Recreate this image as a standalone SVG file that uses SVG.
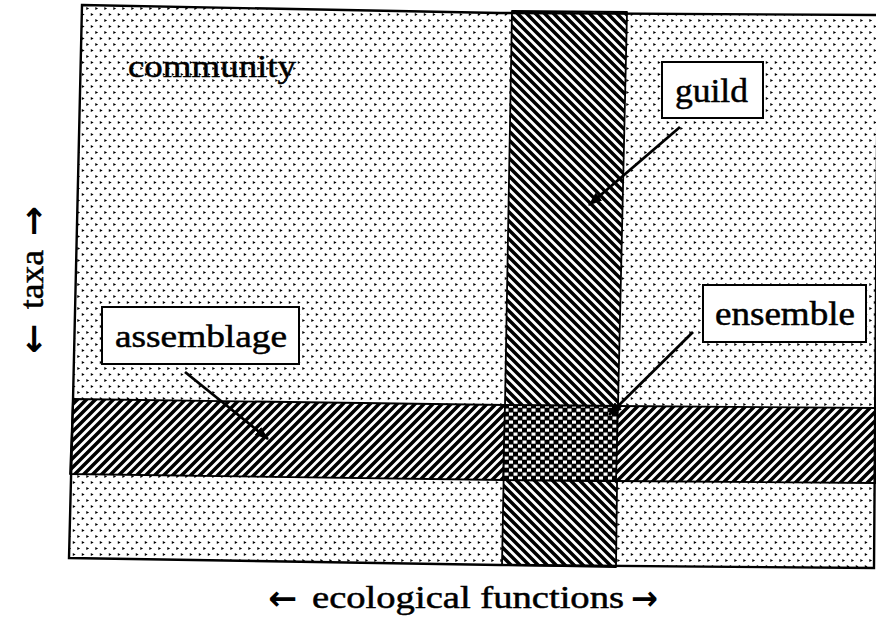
<svg xmlns="http://www.w3.org/2000/svg" width="876" height="632" viewBox="0 0 876 632">
<style>
.lbl{font-family:"Liberation Serif","Times New Roman",serif;fill:#000;stroke:#000;stroke-width:0.5}
.arr{font-family:"DejaVu Sans","Liberation Sans",sans-serif;font-weight:bold;fill:#000}
.box{fill:#fff;stroke:#000;stroke-width:2}
.edge{stroke:#000;stroke-width:1.8;stroke-linejoin:round}
.conn{stroke:#000;stroke-width:2.8;fill:none}
</style>
<defs>
<pattern id="dots" width="9" height="12" patternUnits="userSpaceOnUse">
<rect width="9" height="12" fill="#fff"/>
<path d="M0.8,1 l2.8,1.5 l-2.8,1.5z M5.3,7 l2.8,1.5 l-2.8,1.5z" fill="#000"/>
</pattern>
<pattern id="bs" width="9" height="9" patternUnits="userSpaceOnUse">
<rect width="9" height="9" fill="#fff"/>
<path d="M-2,-2 L11,11 M-2,7 L2,11 M7,-2 L11,2" stroke="#000" stroke-width="3.5"/>
</pattern>
<pattern id="fs" width="9" height="9" patternUnits="userSpaceOnUse">
<rect width="9" height="9" fill="#fff"/>
<path d="M-2,11 L11,-2 M-2,2 L2,-2 M7,11 L11,7" stroke="#000" stroke-width="3.5"/>
</pattern>
<pattern id="check" width="9" height="8" patternUnits="userSpaceOnUse">
<rect width="9" height="8" fill="#000"/>
<rect x="0.5" y="0.5" width="4" height="3.2" fill="#fff"/>
<rect x="5" y="4.5" width="4" height="3.2" fill="#fff"/>
</pattern>
<marker id="ah" viewBox="0 0 14 10" refX="13" refY="5" markerWidth="14" markerHeight="10" markerUnits="userSpaceOnUse" orient="auto">
<path d="M0,0 L14,5 L0,10 z" fill="#000"/>
</marker>
</defs>

<g id="community">
<polygon points="82,5 500,13 878,15 874,568 500,565 69,558 73,400" fill="url(#dots)"/>
</g>

<g id="guild">
<polygon class="edge" points="512,11 627,12 618,406 616,567 502,565 505,405" fill="url(#bs)"/>
</g>

<g id="assemblage">
<polygon class="edge" points="73,399 505,405 618,406 876,408 876,483 616,481 503,480 70,474" fill="url(#fs)"/>
</g>

<g id="ensemble">
<polygon class="edge" points="505,405 618,406 616,481 503,480" fill="url(#check)"/>
</g>

<g id="frame">
<polygon points="82,5 500,13 878,15 874,568 500,565 69,558 73,400" fill="none" stroke="#000" stroke-width="2.4"/>
</g>

<g id="labels">
<text class="lbl" x="128" y="77" font-size="32" textLength="168" lengthAdjust="spacingAndGlyphs">community</text>
<g id="guild-label">
<rect class="box" x="662" y="62" width="101" height="56"/>
<text class="lbl" x="675" y="102" font-size="34" textLength="73" lengthAdjust="spacingAndGlyphs">guild</text>
</g>
<g id="ensemble-label">
<rect class="box" x="703" y="285" width="163" height="57"/>
<text class="lbl" x="715" y="325" font-size="33" textLength="140" lengthAdjust="spacingAndGlyphs">ensemble</text>
</g>
<g id="assemblage-label">
<rect class="box" x="102" y="307" width="197" height="57"/>
<text class="lbl" x="115" y="347" font-size="32" textLength="172" lengthAdjust="spacingAndGlyphs">assemblage</text>
</g>
</g>

<g id="connectors">
<line class="conn" x1="680" y1="127" x2="589" y2="205" marker-end="url(#ah)"/>
<line class="conn" x1="693" y1="332" x2="609" y2="415" marker-end="url(#ah)"/>
<line class="conn" x1="185" y1="372" x2="268" y2="439" marker-end="url(#ah)"/>
</g>

<g id="axes">
<text class="arr" x="268" y="610" font-size="34" textLength="29" lengthAdjust="spacingAndGlyphs">←</text>
<text class="lbl" x="312" y="608" font-size="31" textLength="312" lengthAdjust="spacingAndGlyphs">ecological functions</text>
<text class="arr" x="631" y="610" font-size="34" textLength="27" lengthAdjust="spacingAndGlyphs">→</text>
<g transform="translate(43,0) rotate(-90)">
<text class="arr" x="-354" y="2" font-size="34" textLength="30" lengthAdjust="spacingAndGlyphs">←</text>
<text class="lbl" x="-309" y="0" font-size="33" textLength="59" lengthAdjust="spacingAndGlyphs">taxa</text>
<text class="arr" x="-236" y="2" font-size="34" textLength="30" lengthAdjust="spacingAndGlyphs">→</text>
</g>
</g>
</svg>
